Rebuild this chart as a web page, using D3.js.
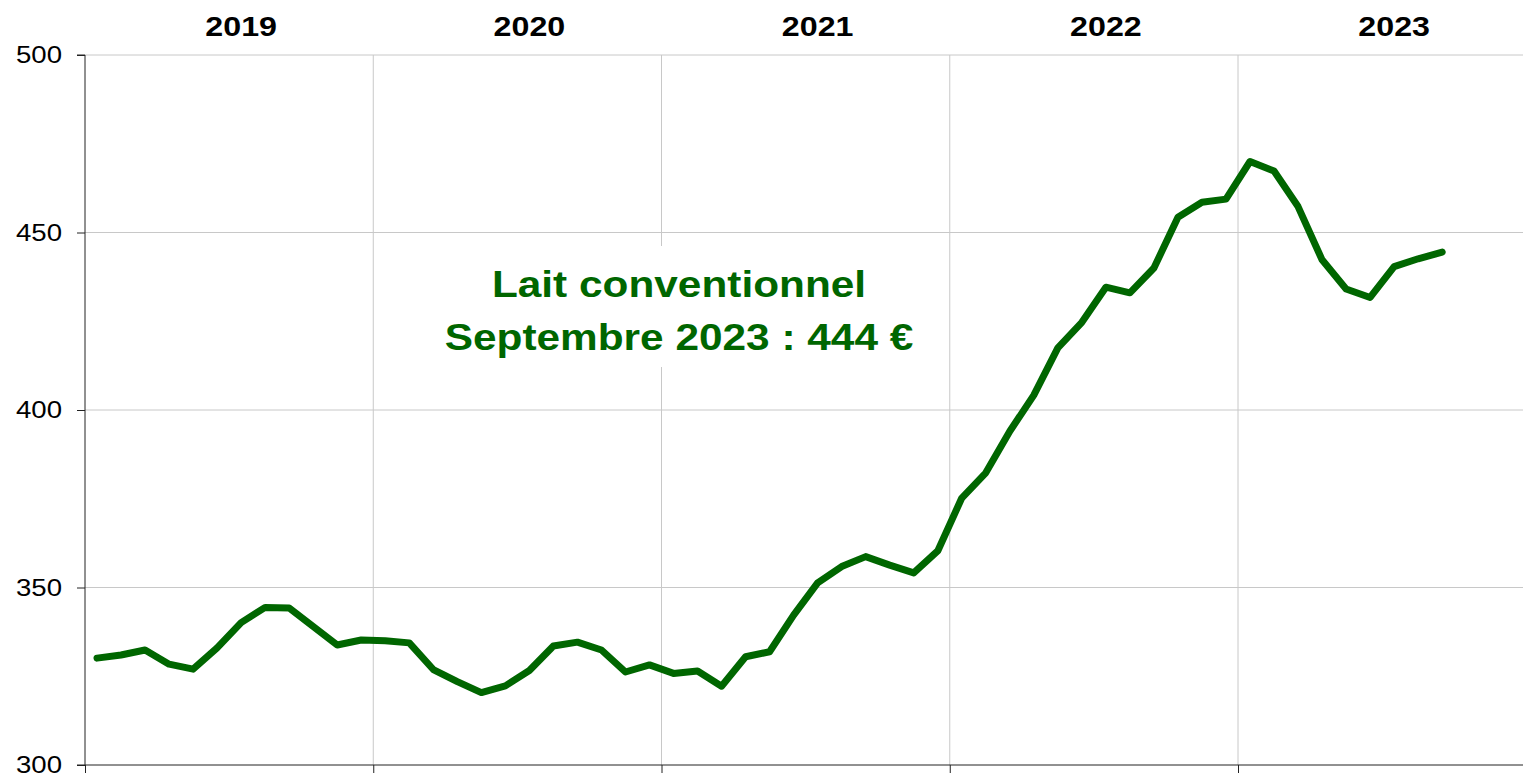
<!DOCTYPE html>
<html lang="fr">
<head>
<meta charset="UTF-8">
<title>Prix du lait conventionnel</title>
<script src="https://d3js.org/d3.v7.min.js"></script>
<style>
  body { margin: 0; background: #fff; }
  svg { display: block; font-family: "Liberation Sans", Arial, sans-serif; }
</style>
</head>
<body>
<div class="chart"></div>
<script>
// years shown along the top
const years = ['2019', '2020', '2021', '2022', '2023']
// monthly price, € / 1000 l
const prices2019 = [330.1, 331.0, 332.4, 328.4, 327.0, 333.0, 340.1, 344.4, 344.2, 339.0, 333.8, 335.2]
const prices2020 = [335.0, 334.4, 326.9, 323.5, 320.4, 322.3, 326.6, 333.5, 334.6, 332.4, 326.2, 328.2]
const prices2021 = [325.8, 326.5, 322.2, 330.5, 331.9, 342.2, 351.3, 355.9, 358.7, 356.3, 354.1, 360.3]
const prices2022 = [375.2, 382.3, 394.0, 404.2, 417.5, 424.7, 434.6, 433.0, 440.0, 454.3, 458.5, 459.4]
const prices2023 = [470.0, 467.3, 457.3, 442.3, 434.1, 431.7, 440.4, 442.6, 444.5]
const yTicks = [300, 350, 400, 450, 500]
const labelLines = ['Lait conventionnel', 'Septembre 2023 : 444 €']

const prices = [].concat(prices2019, prices2020, prices2021, prices2022, prices2023)

const svgWidth = 1523, svgHeight = 775
const plotLeft = 85, plotTop = 55, plotBottom = 765
const green = '#006600'
// the source font is a bit wider than Liberation Sans
const stretch = 1.15

const svg = d3.select('.chart').append('svg')
  .attr('width', svgWidth)
  .attr('height', svgHeight)

// one unit = one month, 5 years on the axis
const xScale = d3.scaleLinear().domain([0, 60]).range([plotLeft, plotLeft + 5 * 288.25])
const yScale = d3.scaleLinear().domain([300, 500]).range([plotBottom, plotTop])

// horizontal grid
svg.append('g')
  .selectAll('line')
  .data(yTicks.slice(1))
  .join('line')
  .attr('x1', plotLeft).attr('x2', xScale(60))
  .attr('y1', d => yScale(d)).attr('y2', d => yScale(d))
  .attr('stroke', '#c8c8c8')

// vertical grid at each new year
svg.append('g')
  .selectAll('line')
  .data([12, 24, 36, 48])
  .join('line')
  .attr('x1', d => xScale(d)).attr('x2', d => xScale(d))
  .attr('y1', plotTop).attr('y2', plotBottom)
  .attr('stroke', '#c8c8c8')

// y axis
const yAxis = svg.append('g')
  .attr('transform', `translate(${plotLeft},0)`)
  .call(d3.axisLeft(yScale).tickValues(yTicks).tickSize(8).tickPadding(15))
yAxis.select('.domain').attr('stroke', '#222').attr('d', `M-8,${plotTop}H0V${plotBottom}H-8`)
yAxis.selectAll('.tick line').attr('stroke', '#222')
yAxis.selectAll('.tick text')
  .attr('x', null)
  .attr('transform', `translate(-23,0) scale(${stretch},1)`)
  .attr('font-size', 24).attr('fill', '#000')
  .attr('font-family', '"Liberation Sans", Arial, sans-serif')

// x axis, ticks only at year boundaries
const xAxis = svg.append('g')
  .attr('transform', `translate(0,${plotBottom})`)
  .call(d3.axisBottom(xScale).tickValues([0, 12, 24, 36, 48]).tickSize(8).tickFormat(''))
xAxis.select('.domain').attr('stroke', '#222').attr('d', `M${plotLeft},0H${xScale(60)}`)
xAxis.selectAll('.tick line').attr('stroke', '#222')

// year labels on top, centred on July
svg.append('g')
  .selectAll('text')
  .data(years)
  .join('text')
  .attr('transform', (d, i) => `translate(${xScale(i * 12 + 6.5)},36) scale(${stretch},1)`)
  .attr('text-anchor', 'middle')
  .attr('font-size', 28)
  .attr('font-weight', 'bold')
  .text(d => d)

// price line
const line = d3.line()
  .x((d, i) => xScale(i + 0.5))
  .y(d => yScale(d))

svg.append('path')
  .datum(prices)
  .attr('d', line)
  .attr('fill', 'none')
  .attr('stroke', green)
  .attr('stroke-width', 7)
  .attr('stroke-linejoin', 'round')
  .attr('stroke-linecap', 'round')

// annotation with white box behind it
svg.append('rect')
  .attr('x', 440).attr('y', 246)
  .attr('width', 476).attr('height', 121)
  .attr('fill', '#fff')
svg.append('g')
  .selectAll('text')
  .data(labelLines)
  .join('text')
  .attr('transform', (d, i) => `translate(679,${297 + i * 53}) scale(1.13,1)`)
  .attr('text-anchor', 'middle')
  .attr('font-size', 37.5)
  .attr('font-weight', 'bold')
  .attr('fill', green)
  .text(d => d)
</script>
</body>
</html>
